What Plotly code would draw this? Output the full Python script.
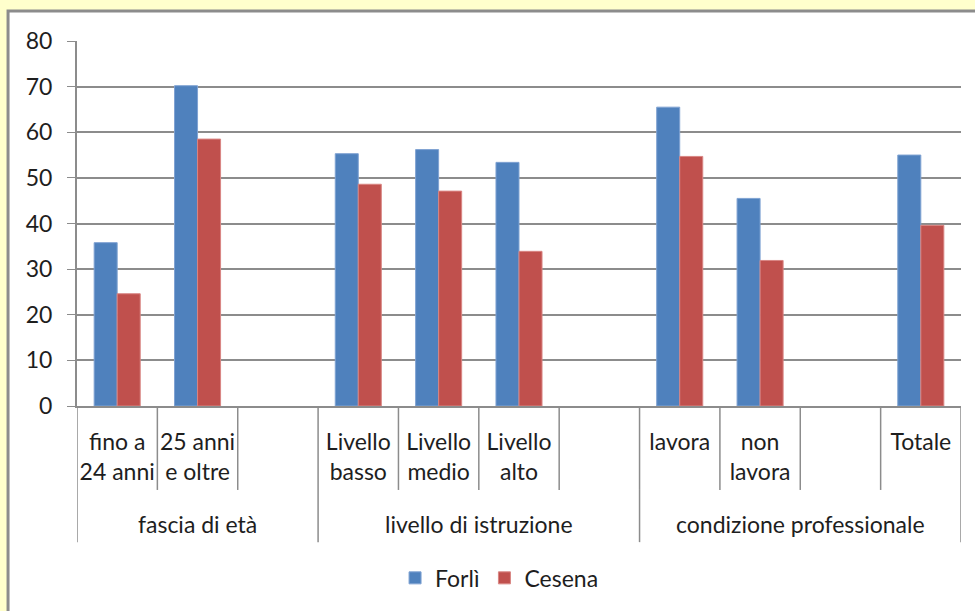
import plotly.graph_objects as go

# categories (two levels) and values
groups = ["fascia di età", "livello di istruzione", "condizione professionale"]
group_sizes = [3, 4, 4]
labels = ["fino a<br>24 anni", "25 anni<br>e oltre", "",
          "Livello<br>basso", "Livello<br>medio", "Livello<br>alto", "",
          "lavora", "non<br>lavora", "", "Totale"]
forli = [35.8, 70.2, None, 55.3, 56.2, 53.4, None, 65.5, 45.5, None, 55.0]
cesena = [24.6, 58.5, None, 48.6, 47.1, 33.9, None, 54.7, 31.9, None, 39.6]
y_ticks = [0, 10, 20, 30, 40, 50, 60, 70, 80]

GRAY = "#8c8c8c"
FONT = "Lato"


def main():
    pos = list(range(len(labels)))
    fig = go.Figure()
    fig.add_trace(go.Bar(x=pos, y=forli, name="Forlì",
                         marker=dict(color="#4F81BD", line=dict(color="#7fa2d2", width=1))))
    fig.add_trace(go.Bar(x=pos, y=cesena, name="Cesena",
                         marker=dict(color="#C0504D", line=dict(color="#d98583", width=1))))

    shapes = [dict(type="rect", xref="paper", yref="paper",
                   x0=-0.078, x1=1.1, y0=-0.8, y1=1.082,
                   fillcolor="white", line=dict(color=GRAY, width=3), layer="below")]
    # short separators between categories
    for i in range(len(labels) + 1):
        shapes.append(dict(type="line", xref="x", yref="paper", x0=i - 0.5, x1=i - 0.5,
                           y0=0, y1=-0.23, line=dict(color=GRAY, width=1.5)))
    # group labels and the long dividers between groups
    annotations = []
    start = 0
    edges = [-0.5]
    for name, n in zip(groups, group_sizes):
        annotations.append(dict(text=name, x=start + (n - 1) / 2, xref="x",
                                y=-0.322, yref="paper", yanchor="middle",
                                showarrow=False, font=dict(size=23)))
        start += n
        edges.append(start - 0.5)
    for e in edges:
        shapes.append(dict(type="line", xref="x", yref="paper", x0=e, x1=e,
                           y0=-0.23, y1=-0.373, line=dict(color=GRAY, width=1.5)))

    fig.update_layout(
        width=975,
        height=611,
        margin=dict(l=77, r=14, t=41, b=205, autoexpand=False),
        paper_bgcolor="#FFFFCC",
        plot_bgcolor="rgba(0,0,0,0)",
        font=dict(family=FONT, size=23, color="#1e1e1e"),
        barmode="group",
        bargap=0.427,
        bargroupgap=0,
        showlegend=True,
        legend=dict(orientation="h", x=0.478, xanchor="center", y=-0.471, yanchor="middle",
                    font=dict(size=23), bgcolor="rgba(0,0,0,0)"),
        shapes=shapes,
        annotations=annotations,
    )
    fig.update_yaxes(
        range=[0, 80], tickvals=y_ticks, showgrid=True, gridcolor=GRAY, gridwidth=1.5,
        showline=True, linecolor=GRAY, linewidth=2, ticks="outside", ticklen=8,
        tickcolor=GRAY, ticklabelstandoff=10, zeroline=False, automargin=False,
    )
    fig.update_xaxes(
        range=[-0.5, len(labels) - 0.5], tickvals=pos, ticktext=labels,
        showline=True, linecolor=GRAY, linewidth=2, ticks="", showgrid=False,
        zeroline=False, ticklabelstandoff=14, automargin=False,
    )

    fig.write_html("out.html", config={"displayModeBar": False},
                   post_script="document.body.style.margin='0';")


if __name__ == "__main__":
    main()
